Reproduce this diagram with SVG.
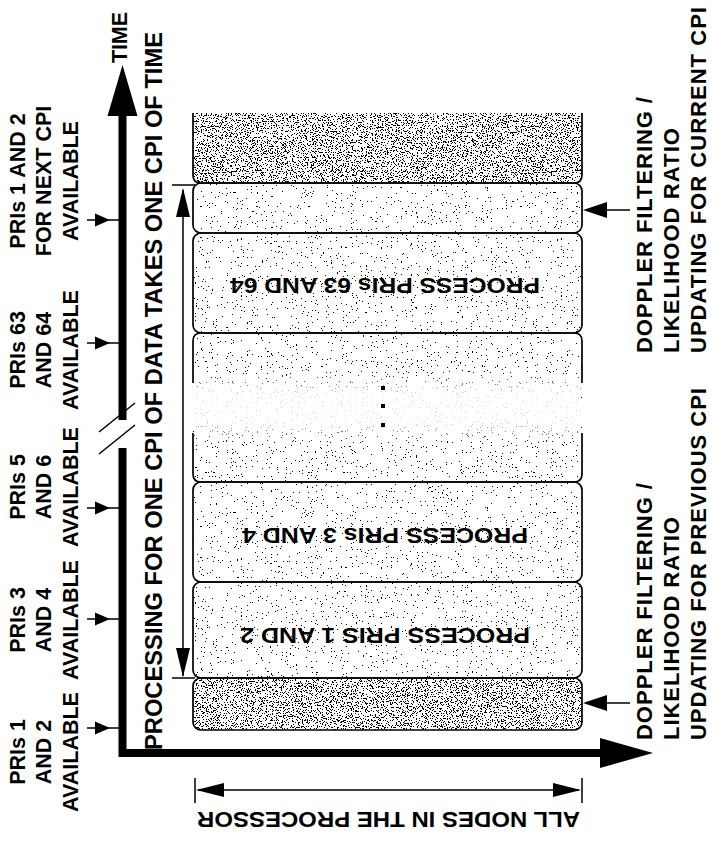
<svg xmlns="http://www.w3.org/2000/svg" width="713" height="843" viewBox="0 0 713 843">
<style>
text{font-family:"Liberation Sans",Arial,Helvetica,sans-serif;font-weight:bold;fill:#000}
.lbl{font-size:21.5px}
.big{font-size:23px}
.rt{font-size:22px}
.proc{font-size:21.5px}
.edge{fill:none;stroke:#000;stroke-width:1.7}
.thin{stroke:#000;stroke-width:1.5;fill:none}
.axis{stroke:#000;stroke-width:8;fill:none;stroke-linejoin:miter}
.head{fill:#000;stroke:none}
</style>
<defs>
<filter id="fDark" x="0" y="0" width="1" height="1" color-interpolation-filters="sRGB">
<feTurbulence type="fractalNoise" baseFrequency="0.8" numOctaves="4" seed="7" result="n"/>
<feColorMatrix in="n" type="matrix" values="0 0 0 0 0  0 0 0 0 0  0 0 0 0 0  -10 0 0 0 4.6" result="a"/>
<feComponentTransfer in="a" result="b"><feFuncA type="discrete" tableValues="0 1"/></feComponentTransfer>
<feComposite in="b" in2="SourceAlpha" operator="in"/>
</filter>
<filter id="fLight" x="0" y="0" width="1" height="1" color-interpolation-filters="sRGB">
<feTurbulence type="fractalNoise" baseFrequency="0.8" numOctaves="4" seed="3" result="n"/>
<feColorMatrix in="n" type="matrix" values="0 0 0 0 0  0 0 0 0 0  0 0 0 0 0  -10 0 0 0 3.2" result="a"/>
<feComponentTransfer in="a" result="b"><feFuncA type="discrete" tableValues="0 1"/></feComponentTransfer>
<feComposite in="b" in2="SourceAlpha" operator="in"/>
</filter>
<linearGradient id="gapFade" x1="0" y1="0" x2="0" y2="1">
<stop offset="0" stop-color="#fff" stop-opacity="0"/>
<stop offset="0.3" stop-color="#fff" stop-opacity="0.85"/>
<stop offset="0.7" stop-color="#fff" stop-opacity="0.85"/>
<stop offset="1" stop-color="#fff" stop-opacity="0"/>
</linearGradient>
</defs>
<rect width="713" height="843" fill="#fff"/>

<!-- boxes -->
<g id="box-current-cpi-doppler">
<path d="M193,113 V175 Q193,183 201,183 H574 Q582,183 582,175 V113 Z" fill="#000" filter="url(#fDark)"/>
<path class="edge" d="M193,113 V175 Q193,183 201,183 H574 Q582,183 582,175 V113"/>
</g>
<g id="box-current-cpi-update">
<rect x="193" y="183" width="389" height="50" rx="8" fill="#000" filter="url(#fLight)"/>
<rect class="edge" x="193" y="183" width="389" height="50" rx="8"/>
</g>
<g id="box-pris-63-64">
<rect x="193" y="233" width="389" height="100" rx="8" fill="#000" filter="url(#fLight)"/>
<rect class="edge" x="193" y="233" width="389" height="100" rx="8"/>
<text class="proc" transform="translate(385,278) rotate(180)" text-anchor="middle" textLength="310" lengthAdjust="spacingAndGlyphs">PROCESS PRIs 63 AND 64</text>
</g>
<g id="box-intermediate">
<rect x="193" y="333" width="389" height="149" rx="8" fill="#000" filter="url(#fLight)"/>
<rect x="194" y="372" width="387" height="72" fill="url(#gapFade)"/>
<path class="edge" d="M193,383 V341 Q193,333 201,333 H574 Q582,333 582,341 V383"/>
<path class="edge" d="M193,433 V474 Q193,482 201,482 H574 Q582,482 582,474 V433"/>
<rect x="381" y="386" width="4" height="4" fill="#000"/>
<rect x="381" y="404" width="4" height="4" fill="#000"/>
<rect x="381" y="423" width="4" height="4" fill="#000"/>
</g>
<g id="box-pris-3-4">
<rect x="193" y="482" width="389" height="100" rx="8" fill="#000" filter="url(#fLight)"/>
<rect class="edge" x="193" y="482" width="389" height="100" rx="8"/>
<text class="proc" transform="translate(385,528) rotate(180)" text-anchor="middle" textLength="286" lengthAdjust="spacingAndGlyphs">PROCESS PRIs 3 AND 4</text>
</g>
<g id="box-pris-1-2">
<rect x="193" y="582" width="389" height="96" rx="8" fill="#000" filter="url(#fLight)"/>
<rect class="edge" x="193" y="582" width="389" height="96" rx="8"/>
<text class="proc" transform="translate(385,628) rotate(180)" text-anchor="middle" textLength="290" lengthAdjust="spacingAndGlyphs">PROCESS PRIS 1 AND 2</text>
</g>
<g id="box-previous-cpi-doppler">
<rect x="193" y="678" width="389" height="52" rx="8" fill="#000" filter="url(#fDark)"/>
<rect class="edge" x="193" y="678" width="389" height="52" rx="8"/>
</g>

<!-- connectors -->
<g id="connectors">
<path class="axis" d="M122.5,115 V420"/>
<path class="axis" d="M122.5,448 V753 H602"/>
<path class="thin" d="M99,432 L135,403 M99,454 L135,425" stroke-width="2"/>
<polygon class="head" points="122.5,65 107.5,116 137.5,116"/>
<polygon class="head" points="653,753 600,738 600,768"/>
<path class="thin" d="M87,728 H119 M87,619 H119 M87,508 H119 M87,343 H119 M87,220 H119"/>
<polygon class="head" points="110,728 95,721.5 95,734.5"/>
<polygon class="head" points="110,619 95,612.5 95,625.5"/>
<polygon class="head" points="110,508 95,501.5 95,514.5"/>
<polygon class="head" points="110,343 95,336.5 95,349.5"/>
<polygon class="head" points="110,220 95,213.5 95,226.5"/>
<path class="thin" d="M183,190 V676 M172,185 H195 M172,678 H195"/>
<polygon class="head" points="183,188 176,217 190,217"/>
<polygon class="head" points="183,677 176,648 190,648"/>
<path class="thin" d="M198,790 H579 M195,778 V803 M582,778 V803"/>
<polygon class="head" points="196,790 224,783 224,797"/>
<polygon class="head" points="581,790 553,783 553,797"/>
<path class="thin" d="M600,210 H630 M600,703 H630"/>
<polygon class="head" points="583,210 607,202 607,218"/>
<polygon class="head" points="583,703 607,695 607,711"/>
</g>

<!-- labels -->
<g id="label-time"><text class="lbl" transform="translate(127,63) rotate(-90)" textLength="51">TIME</text></g>
<g id="label-processing"><text class="big" transform="translate(162,750) rotate(-90)" textLength="718" lengthAdjust="spacingAndGlyphs">PROCESSING FOR ONE CPI OF DATA TAKES ONE CPI OF TIME</text></g>
<g id="label-all-nodes"><text class="proc" transform="translate(388.5,812) rotate(180)" text-anchor="middle" textLength="383" lengthAdjust="spacingAndGlyphs">ALL NODES IN THE PROCESSOR</text></g>

<g id="label-pris-1-2" text-anchor="middle">
<text class="lbl" transform="translate(25,752) rotate(-90)">PRIs 1</text>
<text class="lbl" transform="translate(51,752) rotate(-90)">AND 2</text>
<text class="lbl" transform="translate(78,752) rotate(-90)">AVAILABLE</text>
</g>
<g id="label-pris-3-4" text-anchor="middle">
<text class="lbl" transform="translate(25,620) rotate(-90)">PRIs 3</text>
<text class="lbl" transform="translate(51,620) rotate(-90)">AND 4</text>
<text class="lbl" transform="translate(78,620) rotate(-90)">AVAILABLE</text>
</g>
<g id="label-pris-5-6" text-anchor="middle">
<text class="lbl" transform="translate(25,487) rotate(-90)">PRIs 5</text>
<text class="lbl" transform="translate(51,487) rotate(-90)">AND 6</text>
<text class="lbl" transform="translate(78,487) rotate(-90)">AVAILABLE</text>
</g>
<g id="label-pris-63-64" text-anchor="middle">
<text class="lbl" transform="translate(25,350) rotate(-90)">PRIs 63</text>
<text class="lbl" transform="translate(51,350) rotate(-90)">AND 64</text>
<text class="lbl" transform="translate(78,350) rotate(-90)">AVAILABLE</text>
</g>
<g id="label-pris-next-cpi" text-anchor="middle">
<text class="lbl" transform="translate(25,181) rotate(-90)">PRIs 1 AND 2</text>
<text class="lbl" transform="translate(51,181) rotate(-90)">FOR NEXT CPI</text>
<text class="lbl" transform="translate(78,181) rotate(-90)">AVAILABLE</text>
</g>

<g id="label-current-cpi">
<text class="rt" transform="translate(652,353) rotate(-90)" textLength="256">DOPPLER FILTERING /</text>
<text class="rt" transform="translate(679,353) rotate(-90)" textLength="225">LIKELIHOOD RATIO</text>
<text class="rt" transform="translate(706,353) rotate(-90)" textLength="346">UPDATING FOR CURRENT CPI</text>
</g>
<g id="label-previous-cpi">
<text class="rt" transform="translate(652,740) rotate(-90)" textLength="257">DOPPLER FILTERING /</text>
<text class="rt" transform="translate(679,740) rotate(-90)" textLength="223">LIKELIHOOD RATIO</text>
<text class="rt" transform="translate(706,740) rotate(-90)" textLength="352">UPDATING FOR PREVIOUS CPI</text>
</g>
</svg>
